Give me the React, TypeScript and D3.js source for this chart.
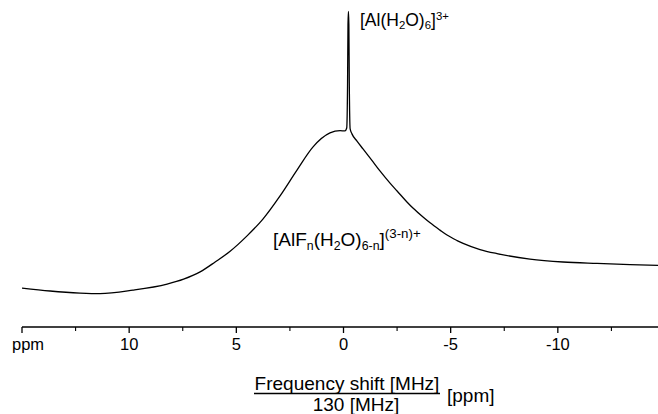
import React from "react";
import * as d3 from "d3";

const ppmValues = [
  15.0, 13.69, 12.29, 11.36, 9.82, 8.23, 7.46, 6.69, 5.99, 5.29, 4.5, 3.76, 2.96, 2.17, 1.42, 0.63, 0.16,
  -0.07, -0.15, -0.19, -0.21, -0.23, -0.25, -0.27, -0.31, -0.4, -0.63, -0.91, -1.38, -1.7,
  -2.17, -2.5, -2.96, -3.24, -3.71, -4.04, -4.5, -4.83, -5.3, -5.58, -6.37, -7.16, -8.7,
  -10.24, -11.83, -13.37, -15.0,
];
const intensityValues = [
  4.1, 3.1, 2.4, 2.2, 3.4, 5.5, 7.2, 9.7, 13.1, 16.8, 22.1, 27.9, 35.9, 44.8, 52.8, 57.6, 58.4,
  58.3, 59.3, 75, 95, 99.5, 95, 75, 59.0, 57.2, 54.8, 52.1, 47.6, 44.5,
  40.3, 37.6, 33.8, 31.7, 28.6, 26.6, 24.1, 22.4, 20.5, 19.5, 17.4, 16.0, 14.1,
  13.1, 12.6, 12.2, 11.9,
];

const majorTicks = [15, 10, 5, 0, -5, -10, -15];
const minorTicks = [12.5, 7.5, 2.5, -2.5, -7.5, -12.5];
const tickLabels = ["", "10", "5", "0", "-5", "-10", ""];

const W = 658;
const H = 414;
const FONT = "'Liberation Sans', Arial, Helvetica, sans-serif";

export default function App() {
  const x = d3.scaleLinear().domain([15, -15]).range([22, 665]);
  const y = d3.scaleLinear().domain([0, 100]).range([300, 10]);
  const axisY = 327;

  const pts = ppmValues.map((p, i) => [p, intensityValues[i]] as [number, number]);
  const line = d3
    .line<[number, number]>()
    .x((d) => x(d[0]))
    .y((d) => y(d[1]))
    .curve(d3.curveMonotoneX);

  return (
    <svg
      width={W}
      height={H}
      viewBox={`0 0 ${W} ${H}`}
      style={{ position: "absolute", left: 0, top: 0, background: "#fff" }}
      fontFamily={FONT}
    >
      <rect x={0} y={0} width={W} height={H} fill="#fff" />
      <path d={line(pts) || ""} fill="none" stroke="#000" strokeWidth={1.3} />

      {/* axis */}
      <line x1={x(15)} x2={x(-15)} y1={axisY} y2={axisY} stroke="#000" strokeWidth={1.4} />
      {majorTicks.map((t) => (
        <line key={"M" + t} x1={x(t)} x2={x(t)} y1={axisY} y2={axisY + 6} stroke="#000" strokeWidth={1.3} />
      ))}
      {minorTicks.map((t) => (
        <line key={"m" + t} x1={x(t)} x2={x(t)} y1={axisY} y2={axisY + 4} stroke="#000" strokeWidth={1.1} />
      ))}
      {majorTicks.map((t, i) =>
        tickLabels[i] ? (
          <text key={"l" + t} x={x(t)} y={350} fontSize={16.5} textAnchor="middle" fill="#000">
            {tickLabels[i]}
          </text>
        ) : null
      )}
      <text x={12} y={350} fontSize={16.5} fill="#000">ppm</text>

      {/* axis title */}
      <text x={347} y={390} fontSize={19} textAnchor="middle" fill="#000">Frequency shift [MHz]</text>
      <line x1={254} x2={440} y1={393.5} y2={393.5} stroke="#000" strokeWidth={1.6} />
      <text x={356} y={411} fontSize={19} textAnchor="middle" fill="#000">130 [MHz]</text>
      <text x={447} y={402} fontSize={19} fill="#000">[ppm]</text>

      {/* peak labels */}
      <text x={360} y={26} fontSize={17.5} fill="#000">
        [Al(H
        <tspan fontSize="0.65em" dy="0.3em">2</tspan>
        <tspan dy="-0.2em">O)</tspan>
        <tspan fontSize="0.65em" dy="0.3em">6</tspan>
        <tspan dy="-0.2em">]</tspan>
        <tspan fontSize="0.65em" dy="-0.55em">3+</tspan>
      </text>
      <text x={273} y={246} fontSize={19} fill="#000">
        [AlF
        <tspan fontSize="0.65em" dy="0.3em">n</tspan>
        <tspan dy="-0.2em">(H</tspan>
        <tspan fontSize="0.65em" dy="0.3em">2</tspan>
        <tspan dy="-0.2em">O)</tspan>
        <tspan fontSize="0.65em" dy="0.3em">6-n</tspan>
        <tspan dy="-0.2em">]</tspan>
        <tspan fontSize="0.7em" dy="-0.55em">(3-n)+</tspan>
      </text>
    </svg>
  );
}
